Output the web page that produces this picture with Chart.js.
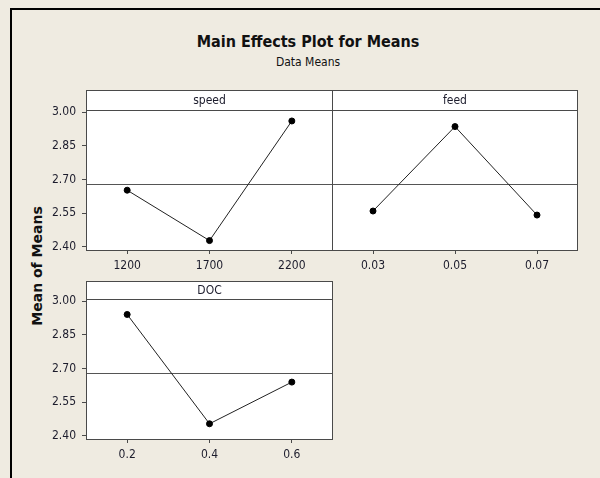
<!DOCTYPE html>
<html lang="en">
<head>
  <meta charset="UTF-8">
  <title>Main Effects Plot for Means</title>
  <script src="https://cdn.jsdelivr.net/npm/chart.js"></script>
  <style>
    html, body {
      margin: 0;
      padding: 0;
    }
    body {
      width: 600px;
      height: 478px;
      background: #efebe1;
      position: relative;
      overflow: hidden;
      font-family: 'DejaVu Sans Condensed', 'DejaVu Sans', sans-serif;
      color: #111;
    }
    .frame {
      position: absolute;
      left: 10px;
      top: 8px;
      width: 600px;
      height: 480px;
      border-top: 2px solid #000;
      border-left: 2px solid #000;
    }
    #title {
      position: absolute;
      left: 0;
      width: 616px;
      top: 32px;
      text-align: center;
      font-size: 16px;
      font-weight: bold;
    }
    #subtitle {
      position: absolute;
      left: 0;
      width: 616px;
      top: 55px;
      text-align: center;
      font-size: 12px;
    }
    #ytitle {
      position: absolute;
      left: 37px;
      top: 266px;
      transform: translate(-50%, -50%) rotate(-90deg);
      white-space: nowrap;
      font-family: 'DejaVu Sans', sans-serif;
      font-size: 14px;
      font-weight: bold;
    }
    canvas {
      position: absolute;
    }
  </style>
</head>
<body>
  <div class="frame"></div>
  <div id="title">Main Effects Plot for Means</div>
  <div id="subtitle">Data Means</div>
  <div id="ytitle">Mean of Means</div>

  <canvas id="speedChart" width="334" height="200" style="left:0px;top:80px"></canvas>
  <canvas id="feedChart" width="250" height="200" style="left:332px;top:80px"></canvas>
  <canvas id="docChart" width="334" height="200" style="left:0px;top:270px"></canvas>

  <script>
    // levels and means
    const speedLevels = ['1200', '1700', '2200'];
    const speedMeans = [2.652, 2.427, 2.961];
    const feedLevels = ['0.03', '0.05', '0.07'];
    const feedMeans = [2.559, 2.936, 2.541];
    const docLevels = ['0.2', '0.4', '0.6'];
    const docMeans = [2.941, 2.453, 2.639];
    const yTicks = [2.40, 2.55, 2.70, 2.85, 3.00];
    const grandMean = 2.679;

    Chart.defaults.font.family = "'DejaVu Sans Condensed', 'DejaVu Sans', sans-serif";
    Chart.defaults.font.size = 12;
    Chart.defaults.color = '#1c1c2c';

    const edge = '#4a4a4a';

    // white plot area, strip header, reference line and box
    const panelPlugin = {
      id: 'panel',
      beforeDraw(chart, args, o) {
        const a = chart.chartArea;
        const ctx = chart.ctx;
        ctx.save();
        ctx.fillStyle = '#fff';
        ctx.fillRect(a.left, a.top - o.stripHeight, a.right - a.left, a.bottom - a.top + o.stripHeight);
        ctx.restore();
      },
      beforeDatasetsDraw(chart, args, o) {
        const a = chart.chartArea;
        const ctx = chart.ctx;
        const y = Math.round(chart.scales.y.getPixelForValue(o.mean)) + 0.5;
        ctx.save();
        ctx.strokeStyle = '#555';
        ctx.lineWidth = 1;
        ctx.beginPath();
        ctx.moveTo(a.left, y);
        ctx.lineTo(a.right, y);
        ctx.stroke();
        ctx.restore();
      },
      afterDraw(chart, args, o) {
        const a = chart.chartArea;
        const ctx = chart.ctx;
        const l = Math.round(a.left) + 0.5;
        const r = Math.round(a.right) - 0.5;
        const t = Math.round(a.top) + 0.5;
        const b = Math.round(a.bottom) + 0.5;
        const st = t - o.stripHeight;
        ctx.save();
        ctx.strokeStyle = edge;
        ctx.lineWidth = 1;
        ctx.strokeRect(l, st, r - l, b - st);
        ctx.beginPath();
        ctx.moveTo(l, t);
        ctx.lineTo(r, t);
        ctx.stroke();
        ctx.fillStyle = '#1c1c2c';
        ctx.font = "12px 'DejaVu Sans Condensed', 'DejaVu Sans', sans-serif";
        ctx.textAlign = 'center';
        ctx.textBaseline = 'middle';
        ctx.fillText(o.text, (l + r) / 2, st + o.stripHeight / 2);
        ctx.restore();
      }
    };

    function makePanel(id, name, labels, values, showY, padding, stripHeight, xHeight) {
      return new Chart(document.getElementById(id), {
        type: 'line',
        data: {
          labels: labels,
          datasets: [{
            data: values,
            borderColor: '#222',
            borderWidth: 1,
            pointRadius: 3,
            pointBackgroundColor: '#000',
            pointBorderColor: '#000',
            tension: 0
          }]
        },
        options: {
          responsive: false,
          animation: false,
          layout: { padding: padding, autoPadding: false },
          plugins: {
            legend: { display: false },
            tooltip: { enabled: false },
            panel: { text: name, mean: grandMean, stripHeight: stripHeight }
          },
          scales: {
            x: {
              type: 'category',
              offset: true,
              border: { display: false },
              grid: { drawOnChartArea: false, drawTicks: true, tickLength: 4, color: edge },
              ticks: { padding: 5, maxRotation: 0 },
              afterFit: s => {
                s.height = xHeight;
                s.paddingLeft = 0;
                s.paddingRight = 0;
              }
            },
            y: {
              display: showY,
              min: 2.385,
              max: 3.01,
              border: { display: false },
              grid: { drawOnChartArea: false, drawTicks: true, tickLength: 4, color: edge },
              ticks: { padding: 6, callback: v => v.toFixed(2) },
              afterBuildTicks: axis => { axis.ticks = yTicks.map(v => ({ value: v })); },
              afterFit: s => {
                s.width = showY ? 86 : 0;
                s.paddingTop = 0;
                s.paddingBottom = 0;
              }
            }
          }
        },
        plugins: [panelPlugin]
      });
    }

    makePanel('speedChart', 'speed', speedLevels, speedMeans, true,
      { top: 30, left: 0, right: 1, bottom: 0 }, 20, 30);
    makePanel('feedChart', 'feed', feedLevels, feedMeans, false,
      { top: 30, left: 0, right: 4, bottom: 0 }, 20, 30);
    makePanel('docChart', 'DOC', docLevels, docMeans, true,
      { top: 29, left: 0, right: 1, bottom: 0 }, 18, 31);
  </script>
</body>
</html>
